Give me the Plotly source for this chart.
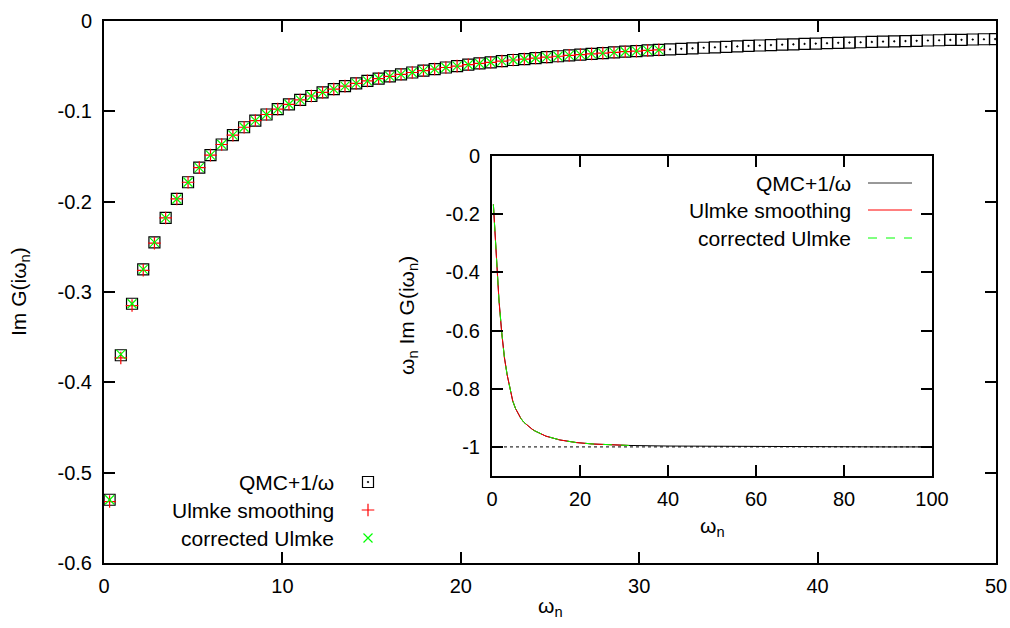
import plotly.graph_objects as go

# ---------------- data ----------------
omega_n = [0.314, 0.942, 1.571, 2.199, 2.827, 3.456, 4.084, 4.712, 5.341, 5.969,
           6.597, 7.226, 7.854, 8.482, 9.111, 9.739, 10.367, 10.996, 11.624, 12.252,
           12.881, 13.509, 14.137, 14.765, 15.394, 16.022, 16.650, 17.279, 17.907, 18.535,
           19.164, 19.792, 20.420, 21.049, 21.677, 22.305, 22.934, 23.562, 24.190, 24.819,
           25.447, 26.075, 26.704, 27.332, 27.960, 28.588, 29.217, 29.845, 30.473, 31.102,
           31.730, 32.358, 32.987, 33.615, 34.243, 34.872, 35.500, 36.128, 36.757, 37.385,
           38.013, 38.642, 39.270, 39.898, 40.527, 41.155, 41.783, 42.412, 43.040, 43.668,
           44.296, 44.925, 45.553, 46.181, 46.810, 47.438, 48.066, 48.695, 49.323, 49.951]

qmc_img = [-0.530, -0.370, -0.313, -0.275, -0.245, -0.218, -0.197, -0.1785, -0.1623, -0.1485,
           -0.1367, -0.1264, -0.1176, -0.1102, -0.1035, -0.0976, -0.0922, -0.0874, -0.0830, -0.0791,
           -0.0754, -0.0721, -0.0691, -0.0663, -0.0637, -0.0613, -0.0590, -0.0570, -0.0550, -0.0532,
           -0.0515, -0.0499, -0.0484, -0.0470, -0.0457, -0.0444, -0.0432, -0.0421, -0.0410, -0.0400,
           -0.0390, -0.0381, -0.0372, -0.0364, -0.0356, -0.0348, -0.0340, -0.0333, -0.0326, -0.0320,
           -0.0314, -0.0308, -0.0302, -0.0296, -0.0291, -0.0286, -0.0281, -0.0276, -0.0271, -0.0267,
           -0.0262, -0.0258, -0.0254, -0.0250, -0.0246, -0.0242, -0.0239, -0.0235, -0.0232, -0.0228,
           -0.0225, -0.0222, -0.0219, -0.0216, -0.0213, -0.0210, -0.0208, -0.0205, -0.0202, -0.0200]

ulmke_img = [-0.532, -0.373, -0.315, -0.276, -0.246, -0.218, -0.197, -0.1785, -0.1623, -0.1485,
             -0.1367, -0.1264, -0.1176, -0.1102, -0.1035, -0.0976, -0.0922, -0.0874, -0.0830, -0.0791,
             -0.0754, -0.0721, -0.0691, -0.0663, -0.0637, -0.0613, -0.0590, -0.0570, -0.0550, -0.0532,
             -0.0515, -0.0499, -0.0484, -0.0470, -0.0457, -0.0444, -0.0432, -0.0421, -0.0410, -0.0400,
             -0.0390, -0.0381, -0.0372, -0.0364, -0.0356, -0.0348, -0.0340, -0.0333, -0.0326, -0.0320]

corrected_img = [-0.530, -0.369, -0.313, -0.275, -0.245, -0.218, -0.197, -0.1785, -0.1623, -0.1485,
                 -0.1367, -0.1264, -0.1176, -0.1102, -0.1035, -0.0976, -0.0922, -0.0874, -0.0830, -0.0791,
                 -0.0754, -0.0721, -0.0691, -0.0663, -0.0637, -0.0613, -0.0590, -0.0570, -0.0550, -0.0532,
                 -0.0515, -0.0499, -0.0484, -0.0470, -0.0457, -0.0444, -0.0432, -0.0421, -0.0410, -0.0400,
                 -0.0390, -0.0381, -0.0372, -0.0364, -0.0356, -0.0348, -0.0340, -0.0333, -0.0326, -0.0320]

# inset: omega_n * Im G
inset_omega = [0.314, 0.942, 1.571, 2.199, 2.827, 3.456, 4.084, 4.712, 5.341, 5.969,
               6.597, 7.226, 7.854, 8.482, 9.111, 9.739, 10.367, 10.996, 11.624, 12.252,
               15.394, 19.164, 22.934, 26.704, 31.102, 40.0, 50.0, 60.0, 70.0, 80.0, 90.0, 100.0]
inset_qmc = [-0.1665, -0.3487, -0.4917, -0.6048, -0.6927, -0.7534, -0.8046, -0.842, -0.868, -0.888,
             -0.903, -0.915, -0.924, -0.932, -0.939, -0.945, -0.950, -0.955, -0.959, -0.963,
             -0.976, -0.985, -0.990, -0.993, -0.995, -0.997, -0.998, -0.999, -0.999, -1.0, -1.0, -1.0]
inset_ulmke = [-0.1671, -0.3515, -0.4948, -0.6070, -0.6955, -0.7534, -0.8046, -0.842, -0.868, -0.888,
               -0.903, -0.915, -0.924, -0.932, -0.939, -0.945, -0.950, -0.955, -0.959, -0.963,
               -0.976, -0.985, -0.990, -0.993, -0.995]
inset_corrected = [-0.1665, -0.3476, -0.4917, -0.6048, -0.6927, -0.7534, -0.8046, -0.842, -0.868, -0.888,
                   -0.903, -0.915, -0.924, -0.932, -0.939, -0.945, -0.950, -0.955, -0.959, -0.963,
                   -0.976, -0.985, -0.990, -0.993, -0.995]
ref_x = [0.0, 100.0]
ref_y = [-1.0, -1.0]

series_names = ["QMC+1/ω", "Ulmke smoothing", "corrected Ulmke"]

main_xticks = [0, 10, 20, 30, 40, 50]
main_xlabels = ["0", "10", "20", "30", "40", "50"]
main_yticks = [-0.6, -0.5, -0.4, -0.3, -0.2, -0.1, 0]
main_ylabels = ["-0.6", "-0.5", "-0.4", "-0.3", "-0.2", "-0.1", "0"]
inset_xticks = [0, 20, 40, 60, 80, 100]
inset_xlabels = ["0", "20", "40", "60", "80", "100"]
inset_yticks = [-1.0, -0.8, -0.6, -0.4, -0.2, 0]
inset_ylabels = ["-1", "-0.8", "-0.6", "-0.4", "-0.2", "0"]

# ---------------- layout helpers ----------------
W, H = 1010, 628
FONT = "Liberation Sans, Arial, sans-serif"
FS = 20
FS_KEY = 21
RED = "#ff0000"
GREEN = "#00ff00"

def px(x):
    return x / W

def py(y):
    return 1 - y / H

fig = go.Figure()

sq = dict(symbol="square-open-dot", size=11, color="black", line=dict(color="black", width=1.2))
plus = dict(symbol="cross-thin-open", size=9, color=RED, line=dict(color=RED, width=1.2))
ex = dict(symbol="x-thin-open", size=9, color=GREEN, line=dict(color=GREEN, width=1.2))

# main plot
fig.add_trace(go.Scatter(x=omega_n, y=qmc_img, mode="markers", name=series_names[0], marker=sq,
                         xaxis="x", yaxis="y", showlegend=False))
fig.add_trace(go.Scatter(x=omega_n[:len(ulmke_img)], y=ulmke_img, mode="markers", name=series_names[1],
                         marker=plus, xaxis="x", yaxis="y", showlegend=False))
fig.add_trace(go.Scatter(x=omega_n[:len(corrected_img)], y=corrected_img, mode="markers", name=series_names[2],
                         marker=ex, xaxis="x", yaxis="y", showlegend=False))

# inset
fig.add_trace(go.Scatter(x=ref_x, y=ref_y, mode="lines", line=dict(color="black", width=1, dash="dot"),
                         xaxis="x2", yaxis="y2", showlegend=False))
fig.add_trace(go.Scatter(x=inset_omega, y=inset_qmc, mode="lines", line=dict(color="black", width=1),
                         xaxis="x2", yaxis="y2", showlegend=False))
fig.add_trace(go.Scatter(x=inset_omega[:len(inset_ulmke)], y=inset_ulmke, mode="lines",
                         line=dict(color=RED, width=1), xaxis="x2", yaxis="y2", showlegend=False))
fig.add_trace(go.Scatter(x=inset_omega[:len(inset_corrected)], y=inset_corrected, mode="lines",
                         line=dict(color=GREEN, width=1, dash="dash"), xaxis="x2", yaxis="y2", showlegend=False))

# legend samples on an invisible full-figure pixel axis
key_main_y = [482, 510, 538]
key_main_x = 368
for yy, mk in zip(key_main_y, [sq, plus, ex]):
    fig.add_trace(go.Scatter(x=[key_main_x], y=[yy], mode="markers", marker=mk,
                             xaxis="x3", yaxis="y3", showlegend=False, hoverinfo="skip"))

key_in_y = [183, 210, 238]
key_in_x = [868, 912]
for yy, col, dash in zip(key_in_y, ["#333333", RED, GREEN], ["solid", "solid", "dash"]):
    fig.add_trace(go.Scatter(x=key_in_x, y=[yy, yy], mode="lines", line=dict(color=col, width=1, dash=dash),
                             xaxis="x3", yaxis="y3", showlegend=False, hoverinfo="skip"))

tf = dict(family=FONT, size=FS, color="black")
kf = dict(family=FONT, size=FS_KEY, color="black")
annotations = []
for name, yy in zip(series_names, key_main_y):
    annotations.append(dict(text=name, x=px(336), y=py(yy), xref="paper", yref="paper",
                            xanchor="right", yanchor="middle", showarrow=False, font=kf))
for name, yy in zip(series_names, key_in_y):
    annotations.append(dict(text=name, x=px(853), y=py(yy), xref="paper", yref="paper",
                            xanchor="right", yanchor="middle", showarrow=False, font=kf))
# axis titles
annotations.append(dict(text="ω<sub>n</sub>", x=px(550), y=py(607), xref="paper", yref="paper",
                        xanchor="center", yanchor="middle", showarrow=False, font=kf))
annotations.append(dict(text="Im G(iω<sub>n</sub>)", x=px(20), y=py(292), xref="paper", yref="paper",
                        xanchor="center", yanchor="middle", showarrow=False, textangle=-90, font=kf))
annotations.append(dict(text="ω<sub>n</sub>", x=px(712), y=py(527), xref="paper", yref="paper",
                        xanchor="center", yanchor="middle", showarrow=False, font=kf))
annotations.append(dict(text="ω<sub>n</sub> Im G(iω<sub>n</sub>)", x=px(408), y=py(316), xref="paper", yref="paper",
                        xanchor="center", yanchor="middle", showarrow=False, textangle=-90, font=kf))

axis_common = dict(showgrid=False, zeroline=False, showline=True, linecolor="black", linewidth=2,
                   mirror="allticks", ticks="inside", ticklen=11, tickwidth=1.5, tickcolor="black",
                   tickfont=tf, automargin=False)

fig.update_layout(
    width=W, height=H, margin=dict(l=0, r=0, t=0, b=0, pad=0, autoexpand=False),
    paper_bgcolor="white", plot_bgcolor="rgba(0,0,0,0)",
    showlegend=False,
    font=tf,
    xaxis=dict(domain=[px(104), px(996)], range=[0, 50], tickvals=main_xticks, ticktext=main_xlabels,
               anchor="y", ticklabelstandoff=4, **axis_common),
    yaxis=dict(domain=[py(563), py(21)], range=[-0.6, 0], tickvals=main_yticks, ticktext=main_ylabels,
               anchor="x", ticklabelstandoff=6, **axis_common),
    xaxis2=dict(domain=[px(492), px(932)], range=[0, 100], tickvals=inset_xticks, ticktext=inset_xlabels,
                anchor="y2", ticklabelstandoff=4, **axis_common),
    yaxis2=dict(domain=[py(476), py(156)], range=[-1.1, 0], tickvals=inset_yticks, ticktext=inset_ylabels,
                anchor="x2", ticklabelstandoff=6, **axis_common),
    xaxis3=dict(domain=[0, 1], range=[0, W], visible=False, showticklabels=False, automargin=False,
                fixedrange=True, anchor="y3"),
    yaxis3=dict(domain=[0, 1], range=[H, 0], visible=False, showticklabels=False, automargin=False,
                fixedrange=True, anchor="x3"),
    annotations=annotations,
)

fig.write_html("out.html")
